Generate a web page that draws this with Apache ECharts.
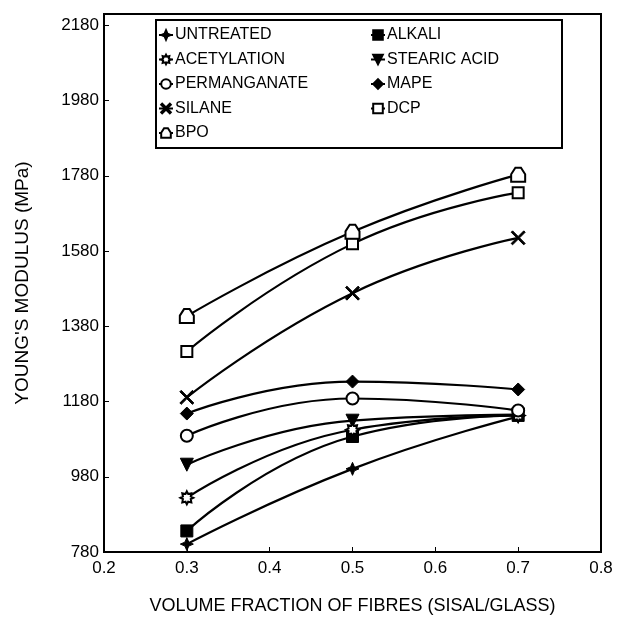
<!DOCTYPE html>
<html>
<head>
<meta charset="utf-8">
<script src="https://cdn.jsdelivr.net/npm/echarts@6/dist/echarts.min.js"></script>
<style>
html,body{margin:0;padding:0;background:#fff;}
#chart{width:623px;height:617px;}
</style>
</head>
<body>
<div id="chart"></div>
<script>
// ---- data ----
var xValues = [0.3, 0.5, 0.7];
var untreated    = [801, 1001, 1140];
var alkali       = [836, 1087, 1143];
var acetylation  = [924, 1105, 1143];
var stearicAcid  = [1012, 1129, 1145];
var permanganate = [1089, 1188, 1156];
var mape         = [1148, 1233, 1212];
var silane       = [1191, 1468, 1615];
var dcp          = [1313, 1599, 1735];
var bpo          = [1407, 1631, 1783];
var xTicks = [0.2, 0.3, 0.4, 0.5, 0.6, 0.7, 0.8];
var yTicks = [780, 980, 1180, 1380, 1580, 1780, 1980, 2180];
var leftLegend = ['UNTREATED', 'ACETYLATION', 'PERMANGANATE', 'SILANE', 'BPO'];
var rightLegend = ['ALKALI', 'STEARIC ACID', 'MAPE', 'DCP'];

function pairs(vals){ return xValues.map(function(x,i){ return [x, vals[i]]; }); }

var FONT = 'Liberation Sans, Arial, sans-serif';
var symStar4 = 'path://M0,-10 L3,-3 L10,0 L3,3 L0,10 L-3,3 L-10,0 L-3,-3 Z';
var symSun = 'path://M0,-10 L2,-6 L7,-7 L6,-2 L10,0 L6,2 L7,7 L2,6 L0,10 L-2,6 L-7,7 L-6,2 L-10,0 L-6,-2 L-7,-7 L-2,-6 Z';
var symX = 'path://M-10,-8 L-8,-10 L0,-2 L8,-10 L10,-8 L2,0 L10,8 L8,10 L0,2 L-8,10 L-10,8 L-2,0 Z';
var symHouse = 'path://M-10,8 L-10,0 L-4,-7 L4,-7 L10,0 L10,8 Z';

function mk(name, vals, symbol, filled, size, rot){
  return {
    name: name, type: 'line', smooth: true, data: pairs(vals),
    symbol: symbol, symbolSize: size || 12, symbolRotate: rot || 0,
    showAllSymbol: true,
    lineStyle: {color: '#000', width: 2.2},
    itemStyle: filled ? {color: '#000', borderColor: '#000', borderWidth: 1}
                      : {color: '#fff', borderColor: '#000', borderWidth: 2},
    z: filled ? 3 : 4
  };
}

var series = [
  mk('UNTREATED', untreated, symStar4, true, 13),
  mk('ALKALI', alkali, 'rect', true, 12),
  mk('ACETYLATION', acetylation, symSun, false, 13),
  mk('STEARIC ACID', stearicAcid, 'triangle', true, 13, 180),
  mk('PERMANGANATE', permanganate, 'circle', false, 12),
  mk('MAPE', mape, 'diamond', true, 13),
  mk('SILANE', silane, symX, true, 14),
  mk('DCP', dcp, 'rect', false, 11),
  mk('BPO', bpo, symHouse, false, 14)
];

var legendCommon = {
  orient: 'vertical', selectedMode: false, itemWidth: 14, itemHeight: 12, itemGap: 8.5,
  textStyle: {fontFamily: FONT, fontSize: 16, color: '#000', lineHeight: 16, padding: [0,0,0,-3]},
  padding: 0
};

var chart = echarts.init(document.getElementById('chart'));
chart.setOption({
  backgroundColor: '#fff',
  animation: false,
  grid: {left: 104, right: 22, top: 14, bottom: 65, show: true, borderColor: '#000', borderWidth: 2,
         outerBoundsMode: 'none', containLabel: false},
  xAxis: {
    type: 'value', min: 0.2, max: 0.8, interval: 0.1,
    name: 'VOLUME FRACTION OF FIBRES (SISAL/GLASS)', nameLocation: 'middle', nameGap: 45,
    nameTextStyle: {fontFamily: FONT, fontSize: 18, color: '#000'},
    axisLine: {lineStyle: {color: '#000', width: 2}},
    axisTick: {inside: true, length: 5, lineStyle: {color: '#000'}},
    axisLabel: {fontFamily: FONT, fontSize: 17, color: '#000', margin: 8,
      formatter: function(v){
        for (var i=0;i<xTicks.length;i++){ if (Math.abs(v-xTicks[i])<1e-6) return xTicks[i].toFixed(1); }
        return '';
      }},
    splitLine: {show: false}
  },
  yAxis: {
    type: 'value', min: 780, max: 2210, interval: 200,
    name: "YOUNG'S MODULUS (MPa)", nameLocation: 'middle', nameGap: 72,
    nameTextStyle: {fontFamily: FONT, fontSize: 19, color: '#000'},
    axisLine: {lineStyle: {color: '#000', width: 2}},
    axisTick: {inside: true, length: 5, lineStyle: {color: '#000'}},
    axisLabel: {fontFamily: FONT, fontSize: 17, color: '#000', margin: 5,
      formatter: function(v){ return yTicks.indexOf(Math.round(v)) >= 0 && Math.abs(v-Math.round(v))<1e-6 ? String(Math.round(v)) : ''; }},
    splitLine: {show: false}
  },
  legend: [
    Object.assign({}, legendCommon, {left: 158, top: 27, data: leftLegend}),
    Object.assign({}, legendCommon, {left: 370, top: 27, data: rightLegend})
  ],
  graphic: [{
    type: 'rect', shape: {x: 156, y: 20, width: 406, height: 128},
    style: {fill: 'none', stroke: '#000', lineWidth: 2}, z: 100
  }],
  series: series
});
</script>
</body>
</html>
